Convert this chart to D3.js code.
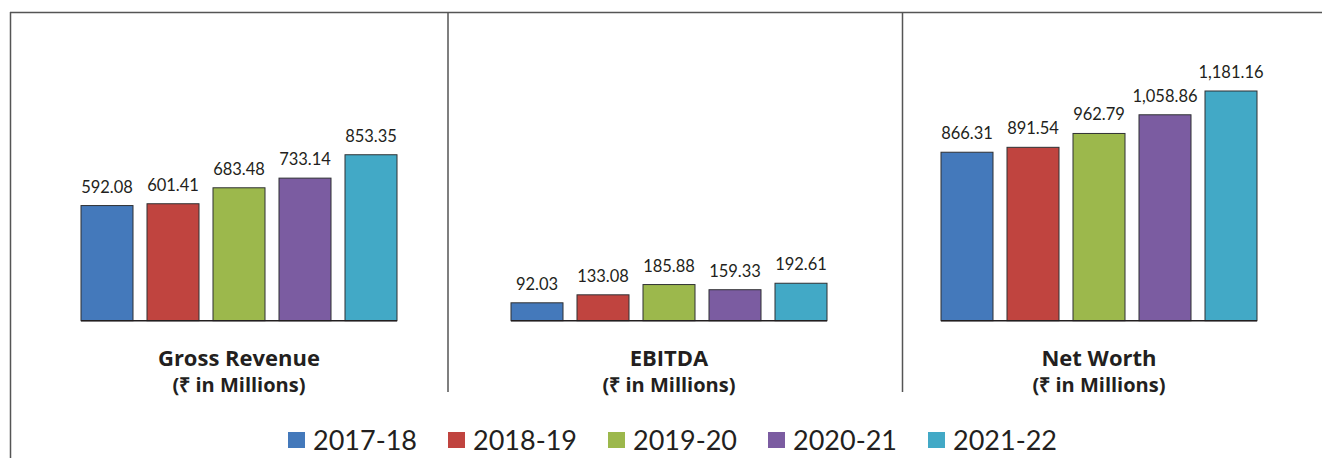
<!DOCTYPE html>
<html>
<head>
  <script src="https://cdn.jsdelivr.net/npm/d3@7"></script>
  <title>Financial Highlights</title>
  <style>
    body { margin: 0; background: #fff; }
    .val { font-family: "Lato", sans-serif; font-size: 16.5px; fill: #231f20; }
    .ttl { font-family: "Open Sans", sans-serif; font-weight: 700; fill: #231f20; }
    .leg { font-family: "Lato", sans-serif; font-size: 27px; fill: #231f20; }
  </style>
</head>
<body>
<svg id="chart" width="1322" height="458"></svg>
<script>
  // data
  var years = ["2017-18", "2018-19", "2019-20", "2020-21", "2021-22"];
  var colors = ["#4479bb", "#c0443f", "#9cb84c", "#7b5ca1", "#42a9c6"];
  var grossRevenue = [592.08, 601.41, 683.48, 733.14, 853.35];
  var ebitda = [92.03, 133.08, 185.88, 159.33, 192.61];
  var netWorth = [866.31, 891.54, 962.79, 1058.86, 1181.16];
  var panelTitles = ["Gross Revenue", "EBITDA", "Net Worth"];
  var panelData = [grossRevenue, ebitda, netWorth];
  var unitLabel = "(\u20B9 in Millions)";

  var svg = d3.select("#chart");
  var fmt = d3.format(",.2f");

  // frame lines
  var lineColor = "#555";
  svg.append("line").attr("x1", 10).attr("x2", 1322).attr("y1", 12.5).attr("y2", 12.5)
    .style("stroke", lineColor).style("stroke-width", 1.5);
  svg.append("line").attr("x1", 10.5).attr("x2", 10.5).attr("y1", 12).attr("y2", 458)
    .style("stroke", lineColor).style("stroke-width", 1.5);
  [448, 902.5].forEach(function(x) {
    svg.append("line").attr("x1", x).attr("x2", x).attr("y1", 12).attr("y2", 392)
      .style("stroke", lineColor).style("stroke-width", 1.5);
  });

  var baseline = 320.7;
  var y = d3.scaleLinear().domain([0, 1181.16]).range([baseline, 91]);
  var panelX = d3.scalePoint().domain(panelTitles).range([81, 941]);
  var x = d3.scaleBand().domain(years).range([0, 316]).paddingInner(14 / 66).paddingOuter(0);

  panelTitles.forEach(function(t, i) {
    var g = svg.append("g").attr("transform", "translate(" + panelX(t) + ",0)");
    var vals = panelData[i];

    g.selectAll("rect").data(vals).enter().append("rect")
      .attr("x", function(d, j) { return x(years[j]); })
      .attr("y", function(d) { return y(d); })
      .attr("width", x.bandwidth())
      .attr("height", function(d) { return baseline - y(d); })
      .style("fill", function(d, j) { return colors[j]; })
      .style("stroke", "#2f3133").style("stroke-width", 1);

    g.append("line").attr("x1", 0).attr("x2", 316).attr("y1", baseline).attr("y2", baseline)
      .style("stroke", "#231f20").style("stroke-width", 1.5);

    g.selectAll("text.val").data(vals).enter().append("text")
      .attr("class", "val")
      .attr("x", function(d, j) { return x(years[j]) + x.bandwidth() / 2; })
      .attr("y", function(d) { return y(d) - 13; })
      .attr("text-anchor", "middle")
      .text(function(d) { return fmt(d); });

    g.append("text").attr("class", "ttl").attr("x", 158).attr("y", 366)
      .attr("text-anchor", "middle").style("font-size", "22px").text(t);
    g.append("text").attr("class", "ttl").attr("x", 158).attr("y", 392)
      .attr("text-anchor", "middle").style("font-size", "20px").text(unitLabel);
  });

  // legend
  var legX = d3.scaleBand().domain(years).range([288, 1088]);
  var leg = svg.selectAll("g.legend").data(years).enter().append("g")
    .attr("class", "legend")
    .attr("transform", function(d) { return "translate(" + legX(d) + ",0)"; });
  leg.append("rect").attr("x", 0).attr("y", 432).attr("width", 17).attr("height", 16)
    .style("fill", function(d, j) { return colors[j]; });
  leg.append("text").attr("class", "leg").attr("x", 25).attr("y", 450).text(function(d) { return d; });
</script>
</body>
</html>
